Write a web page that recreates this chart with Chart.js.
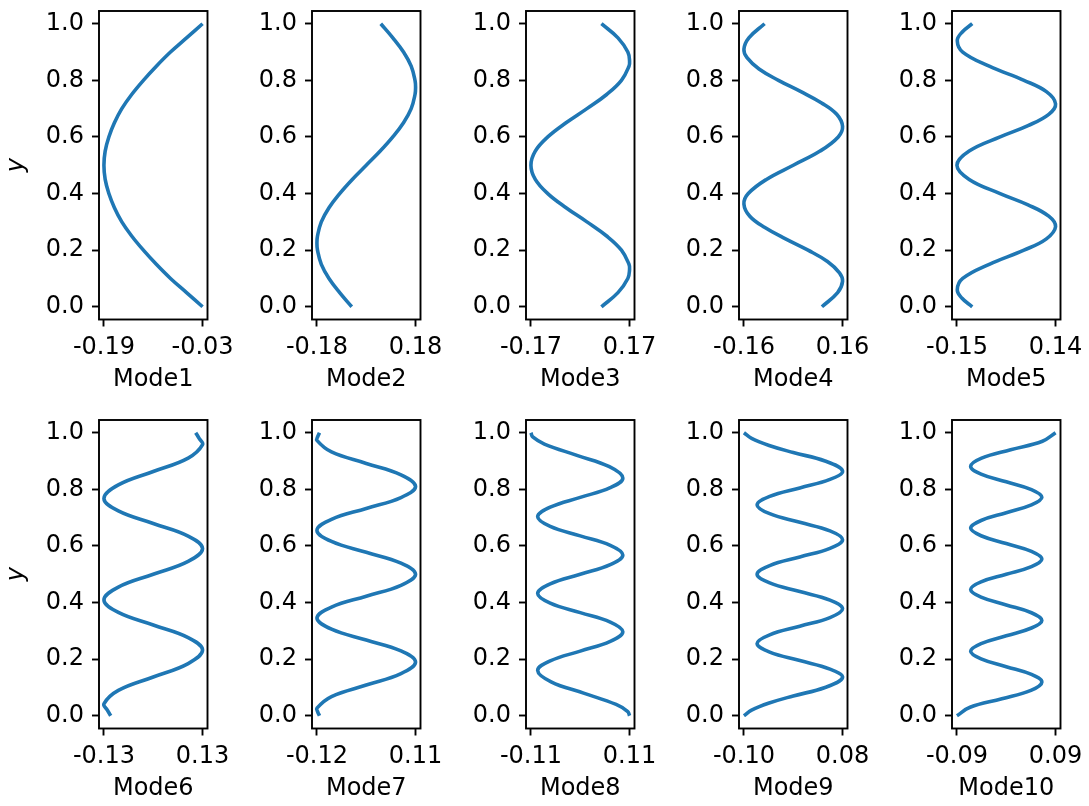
<!DOCTYPE html>
<html>
<head>
<meta charset="utf-8">
<script src="https://cdn.jsdelivr.net/npm/chart.js@4.4.0/dist/chart.umd.min.js"></script>
<style>
  body { margin: 0; background: #fff; }
  #wrap { position: relative; width: 1089px; height: 806px; overflow: hidden; background: #fff; }
  #wrap canvas { position: absolute; }
</style>
</head>
<body>
<div id="wrap"></div>
<script>
// Titik-titik kurva tiap mode (y vertikal, x = nilai mode)
const mode1Y = [0, 0.05, 0.1, 0.15, 0.2, 0.25, 0.3, 0.35, 0.4, 0.45, 0.5, 0.55, 0.6, 0.65, 0.7, 0.75, 0.8, 0.85, 0.9, 0.95, 1];
const mode1X = [-0.030, -0.056, -0.082, -0.105, -0.126, -0.145, -0.161, -0.173, -0.182, -0.188, -0.190, -0.188, -0.182, -0.173, -0.161, -0.145, -0.126, -0.105, -0.082, -0.056, -0.030];

const mode2Y = [0, 0.05, 0.1, 0.15, 0.2, 0.225, 0.25, 0.3, 0.35, 0.4, 0.45, 0.5, 0.55, 0.6, 0.65, 0.7, 0.75, 0.775, 0.8, 0.85, 0.9, 0.95, 1];
const mode2X = [-0.053, -0.097, -0.136, -0.164, -0.178, -0.180, -0.178, -0.164, -0.136, -0.097, -0.051, 0, 0.051, 0.097, 0.136, 0.164, 0.178, 0.180, 0.178, 0.164, 0.136, 0.097, 0.053];

const mode3Y = [0, 0.05, 0.1, 0.132, 0.15, 0.2, 0.25, 0.3, 0.35, 0.4, 0.45, 0.5, 0.55, 0.6, 0.65, 0.7, 0.75, 0.8, 0.85, 0.868, 0.9, 0.95, 1];
const mode3X = [0.073, 0.130, 0.164, 0.170, 0.168, 0.142, 0.091, 0.023, -0.049, -0.112, -0.155, -0.170, -0.155, -0.112, -0.049, 0.023, 0.091, 0.142, 0.168, 0.170, 0.164, 0.130, 0.073];

const mode4Y = [0, 0.05, 0.09, 0.12, 0.16, 0.2, 0.24, 0.28, 0.32, 0.363, 0.4, 0.45, 0.5, 0.55, 0.6, 0.637, 0.68, 0.72, 0.76, 0.8, 0.84, 0.88, 0.91, 0.95, 1];
const mode4X = [0.093, 0.144, 0.160, 0.150, 0.111, 0.048, -0.025, -0.092, -0.141, -0.160, -0.146, -0.087, 0, 0.087, 0.146, 0.160, 0.141, 0.092, 0.025, -0.048, -0.111, -0.150, -0.160, -0.144, -0.093];

const mode5Y = [0, 0.03, 0.06, 0.1, 0.15, 0.2, 0.24, 0.283, 0.32, 0.36, 0.4, 0.45, 0.5, 0.55, 0.6, 0.64, 0.68, 0.717, 0.76, 0.8, 0.85, 0.9, 0.94, 0.97, 1];
const mode5X = [-0.105, -0.135, -0.149, -0.133, -0.055, 0.047, 0.113, 0.140, 0.120, 0.059, -0.023, -0.114, -0.150, -0.114, -0.023, 0.059, 0.120, 0.140, 0.113, 0.047, -0.055, -0.133, -0.149, -0.135, -0.105];

const mode6Y = [0, 0.02, 0.042, 0.0895, 0.137, 0.1845, 0.232, 0.276, 0.3205, 0.365, 0.409, 0.4545, 0.5, 0.5455, 0.591, 0.635, 0.6795, 0.724, 0.768, 0.8155, 0.863, 0.9105, 0.958, 0.98, 1];
const mode6X = [-0.112, -0.121, -0.130, -0.092, 0, 0.092, 0.130, 0.092, 0, -0.092, -0.130, -0.092, 0, 0.092, 0.130, 0.092, 0, -0.092, -0.130, -0.092, 0, 0.092, 0.130, 0.121, 0.112];

const mode7Y = [0, 0.013, 0.027, 0.068, 0.1085, 0.149, 0.19, 0.229, 0.2675, 0.306, 0.345, 0.384, 0.4225, 0.461, 0.5, 0.539, 0.5775, 0.616, 0.655, 0.694, 0.7325, 0.771, 0.81, 0.851, 0.8915, 0.932, 0.973, 0.987, 1];
const mode7X = [-0.114, -0.118, -0.120, -0.086, -0.005, 0.076, 0.110, 0.076, -0.005, -0.086, -0.120, -0.086, -0.005, 0.076, 0.110, 0.076, -0.005, -0.086, -0.120, -0.086, -0.005, 0.076, 0.110, 0.076, -0.005, -0.086, -0.120, -0.118, -0.114];

const mode8Y = [0, 0.015, 0.04, 0.08, 0.12, 0.16, 0.194, 0.2285, 0.263, 0.297, 0.331, 0.3645, 0.398, 0.432, 0.466, 0.5, 0.534, 0.568, 0.602, 0.6355, 0.669, 0.703, 0.737, 0.7715, 0.806, 0.84, 0.88, 0.92, 0.96, 0.985, 1];
const mode8X = [0.110, 0.106, 0.080, 0.0075, -0.065, -0.095, -0.067, 0, 0.067, 0.095, 0.067, 0, -0.067, -0.095, -0.067, 0, 0.067, 0.095, 0.067, 0, -0.067, -0.095, -0.067, 0, 0.067, 0.095, 0.065, -0.0075, -0.080, -0.106, -0.110];

const mode9Y = [0, 0.02, 0.045, 0.07, 0.1, 0.135, 0.165, 0.195, 0.225, 0.255, 0.286, 0.3165, 0.347, 0.378, 0.4085, 0.439, 0.4695, 0.5, 0.5305, 0.561, 0.5915, 0.622, 0.653, 0.6835, 0.714, 0.745, 0.775, 0.805, 0.835, 0.865, 0.9, 0.93, 0.955, 0.98, 1];
const mode9X = [-0.100, -0.086, -0.054, -0.010, 0.048, 0.080, 0.057, 0.002, -0.053, -0.076, -0.053, 0.002, 0.057, 0.080, 0.057, 0.002, -0.053, -0.076, -0.053, 0.002, 0.057, 0.080, 0.057, 0.002, -0.053, -0.076, -0.053, 0.002, 0.057, 0.080, 0.048, -0.010, -0.054, -0.086, -0.100];

const mode10Y = [0, 0.03, 0.06, 0.09, 0.119, 0.146, 0.1735, 0.201, 0.228, 0.255, 0.2825, 0.31, 0.337, 0.364, 0.3915, 0.419, 0.446, 0.473, 0.5, 0.527, 0.554, 0.581, 0.6085, 0.636, 0.663, 0.69, 0.7175, 0.745, 0.772, 0.799, 0.8265, 0.854, 0.881, 0.91, 0.94, 0.97, 1];
const mode10X = [-0.090, -0.066, -0.008, 0.045, 0.065, 0.046, 0, -0.046, -0.065, -0.046, 0, 0.046, 0.065, 0.046, 0, -0.046, -0.065, -0.046, 0, 0.046, 0.065, 0.046, 0, -0.046, -0.065, -0.046, 0, 0.046, 0.065, 0.046, 0, -0.046, -0.065, -0.045, 0.008, 0.066, 0.090];

const modeNames = ['Mode1', 'Mode2', 'Mode3', 'Mode4', 'Mode5', 'Mode6', 'Mode7', 'Mode8', 'Mode9', 'Mode10'];
const yTickValues = [0, 0.2, 0.4, 0.6, 0.8, 1.0];

const allY = [mode1Y, mode2Y, mode3Y, mode4Y, mode5Y, mode6Y, mode7Y, mode8Y, mode9Y, mode10Y];
const allX = [mode1X, mode2X, mode3X, mode4X, mode5X, mode6X, mode7X, mode8X, mode9X, mode10X];

// Posisi kotak plot (piksel halaman)
const boxLefts = [99, 312, 526, 739, 952];
const boxTops = [11, 420];
const boxW = 108.5;
const boxH = 308.5;
const axisW = 97;   // lebar sumbu y
const axisH = 75;   // tinggi sumbu x + judul
const canvasW = 246;
const canvasH = 394;
const padTop = 10;

Chart.defaults.font.family = "'DejaVu Sans'";
Chart.defaults.font.size = 24;
Chart.defaults.color = '#000';

// Plugin kecil untuk menggambar bingkai kotak (empat sisi)
const frameBox = {
    id: 'frameBox',
    afterDatasetsDraw(chart) {
        const a = chart.chartArea;
        const ctx = chart.ctx;
        ctx.save();
        ctx.strokeStyle = '#000';
        ctx.lineWidth = 1.9;
        ctx.strokeRect(a.left, a.top, a.right - a.left, a.bottom - a.top);
        ctx.restore();
    }
};

const wrap = document.getElementById('wrap');

for (let i = 0; i < 10; i++) {
    const col = i % 5;
    const row = Math.floor(i / 5);
    const canvas = document.createElement('canvas');
    canvas.width = canvasW;
    canvas.height = canvasH;
    canvas.style.left = (boxLefts[col] - axisW) + 'px';
    canvas.style.top = (boxTops[row] - padTop) + 'px';
    wrap.appendChild(canvas);

    const xs = allX[i];
    const ys = allY[i];
    const lo = Math.min(...xs);
    const hi = Math.max(...xs);
    const m = (hi - lo) * 0.05;
    const points = xs.map((x, k) => ({ x: x, y: ys[k] }));

    new Chart(canvas.getContext('2d'), {
        type: 'line',
        data: {
            datasets: [{
                data: points,
                borderColor: '#1f77b4',
                borderWidth: 3.6,
                pointRadius: 0,
                tension: 0.4,
                fill: false
            }]
        },
        options: {
            responsive: false,
            animation: false,
            devicePixelRatio: 1,
            layout: {
                padding: { left: 0, top: padTop, right: canvasW - axisW - boxW, bottom: canvasH - padTop - boxH - axisH }
            },
            plugins: { legend: { display: false }, tooltip: { enabled: false } },
            scales: {
                x: {
                    type: 'linear',
                    min: lo - m,
                    max: hi + m,
                    afterBuildTicks: (scale) => { scale.ticks = [{ value: lo }, { value: hi }]; },
                    afterFit: (scale) => {
                        scale.height = axisH;
                        scale.paddingLeft = 0;
                        scale.paddingRight = 0;
                    },
                    ticks: {
                        autoSkip: false,
                        maxRotation: 0,
                        minRotation: 0,
                        padding: 7,
                        callback: (v) => Number(v).toFixed(2)
                    },
                    grid: { drawOnChartArea: false, drawTicks: true, tickLength: 7, tickWidth: 1.9, tickColor: '#000' },
                    border: { display: false },
                    title: { display: true, text: modeNames[i], padding: 0, font: { size: 24 } }
                },
                y: {
                    type: 'linear',
                    min: -0.045,
                    max: 1.045,
                    afterBuildTicks: (scale) => { scale.ticks = yTickValues.map(v => ({ value: v })); },
                    afterFit: (scale) => {
                        scale.width = axisW;
                        scale.paddingTop = 0;
                        scale.paddingBottom = 0;
                    },
                    ticks: {
                        padding: 8,
                        callback: (v) => Number(v).toFixed(1)
                    },
                    grid: { drawOnChartArea: false, drawTicks: true, tickLength: 7, tickWidth: 1.9, tickColor: '#000' },
                    border: { display: false },
                    title: { display: col === 0, text: 'y', padding: 0, font: { size: 24, style: 'italic' } }
                }
            }
        },
        plugins: [frameBox]
    });
}
</script>
</body>
</html>
